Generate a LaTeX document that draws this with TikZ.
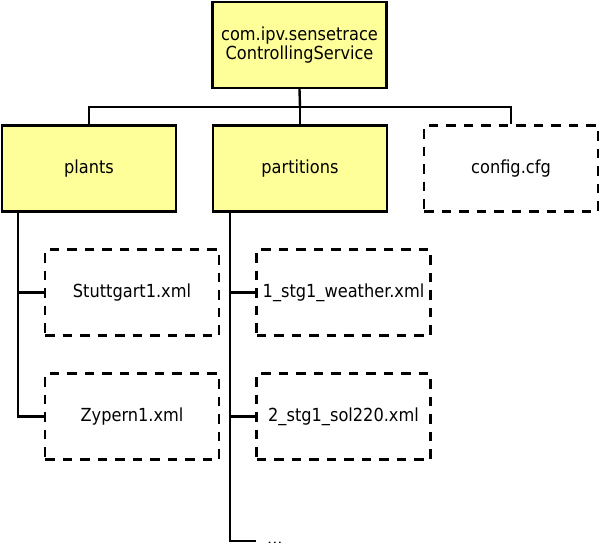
\documentclass[tikz,border=0pt]{standalone}
\usepackage{fontspec}
\setmainfont{DejaVu Sans Condensed}
\begin{document}
\begin{tikzpicture}[x=1pt,y=-1pt,
  box/.style={draw=black,line width=2.4pt,minimum width=174pt,minimum height=86pt,inner sep=0pt,align=center,font=\fontsize{18}{19.5}\selectfont},
  folder/.style={box,fill=yellowbox},
  filebox/.style={box,dash pattern=on 9.5pt off 8pt},
  conn/.style={line width=2.4pt}]
\definecolor{yellowbox}{HTML}{FFFF99}
\useasboundingbox (0,0) rectangle (600,542);
\node[folder] (root) at (299.5,45) {com.ipv.sensetrace\\ControllingService};
\node[folder] (plants) at (89,168.5) {plants};
\node[folder] (partitions) at (300,168.5) {partitions};
\node[filebox] (config) at (511,168.5) {config.cfg};
\node[filebox] (stutt) at (132,292.5) {Stuttgart1.xml};
\node[filebox] (zyp) at (132,416.5) {Zypern1.xml};
\node[filebox] (weather) at (343.5,292.5) {1\_stg1\_weather.xml};
\node[filebox] (sol) at (343.5,416.5) {2\_stg1\_sol220.xml};
\node[anchor=base west,inner sep=0pt,font=\fontsize{18}{20}\selectfont] (dots) at (267,544) {...};
\coordinate (j) at (300,107);
\coordinate (pl) at (18,0);
\coordinate (pa) at (230,0);
\coordinate (pend) at (230,541);
\coordinate (dend) at (256,541);
\draw[conn] (root.south) -- (j);
\draw[conn] (j) -| (plants.north);
\draw[conn] (j) -| (partitions.north);
\draw[conn] (j) -| (config.north);
\draw[conn] (plants.south -| pl) |- (zyp.west);
\draw[conn] (stutt.west -| pl) -- (stutt.west);
\draw[conn] (partitions.south -| pa) -- (pend) -- (dend);
\draw[conn] (weather.west -| pa) -- (weather.west);
\draw[conn] (sol.west -| pa) -- (sol.west);
\end{tikzpicture}
\end{document}
